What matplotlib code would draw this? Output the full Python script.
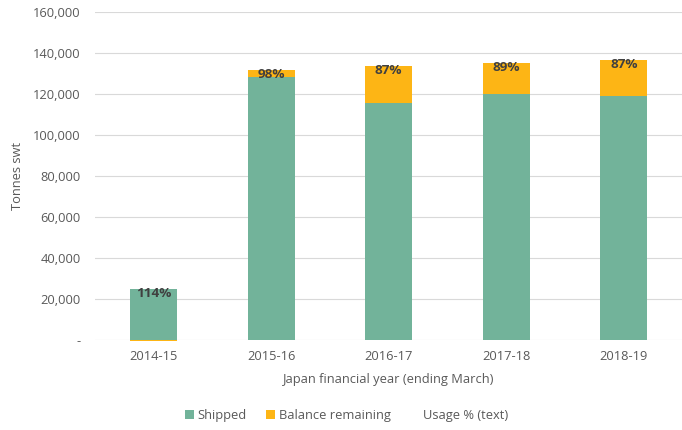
import matplotlib
matplotlib.use("Agg")
import matplotlib.pyplot as plt
from matplotlib.ticker import FuncFormatter, MultipleLocator
from matplotlib.patches import Patch

years = ["2014-15", "2015-16", "2016-17", "2017-18", "2018-19"]
shipped = [24900, 128500, 115600, 120000, 119000]
balance = [-500, 3200, 18100, 15100, 17600]
usage_labels = ["114%", "98%", "87%", "89%", "87%"]

GREEN = "#72B39A"
ORANGE = "#FDB515"
TXT = "#595959"
FS = 9.3

plt.rcParams['font.family'] = ['Open Sans', 'DejaVu Sans']

fig = plt.figure(figsize=(6.82, 4.30), dpi=100)
ax = fig.add_axes([0.139, 0.209, 0.862, 0.763])

x = list(range(len(years)))
w = 0.4
ax.bar(x, shipped, width=w, color=GREEN, zorder=2)
ax.bar(x, balance, width=w, bottom=[s if b >= 0 else 0 for s, b in zip(shipped, balance)],
       color=ORANGE, zorder=2, clip_on=False)

for xi, s, b, lab in zip(x, shipped, balance, usage_labels):
    top = s + max(b, 0)
    ax.text(xi, top + 900, lab, ha='center', va='top', fontsize=FS + 0.4,
            fontweight='bold', color='#404040', zorder=3)

ax.set_xlim(-0.5, 4.5)
ax.set_ylim(0, 160000)
ax.yaxis.set_major_locator(MultipleLocator(20000))
ax.yaxis.set_major_formatter(FuncFormatter(lambda v, p: '-' if v == 0 else f'{v:,.0f}'))
ax.set_xticks(x)
ax.set_xticklabels(years)
ax.grid(axis='y', color='#D9D9D9', linewidth=0.8, zorder=0)
for sp in ax.spines.values():
    sp.set_visible(False)
ax.tick_params(axis='both', length=0, labelsize=FS, colors=TXT, pad=7)
ax.tick_params(axis='y', pad=10)
ax.set_xlabel("Japan financial year (ending March)", fontsize=FS, color=TXT, labelpad=7)
ax.set_ylabel("Tonnes swt", fontsize=FS, color=TXT, labelpad=7)

handles = [Patch(facecolor=GREEN, edgecolor='none', label='Shipped'),
           Patch(facecolor=ORANGE, edgecolor='none', label='Balance remaining'),
           Patch(facecolor='none', edgecolor='none', label='Usage % (text)')]
leg = fig.legend(handles=handles, loc='center', bbox_to_anchor=(0.508, 0.033), ncol=3,
                 frameon=False, fontsize=FS, handlelength=0.7, handleheight=0.7,
                 handletextpad=0.3, columnspacing=1.5)
for t in leg.get_texts():
    t.set_color(TXT)

fig.savefig("out.png", dpi=100)
